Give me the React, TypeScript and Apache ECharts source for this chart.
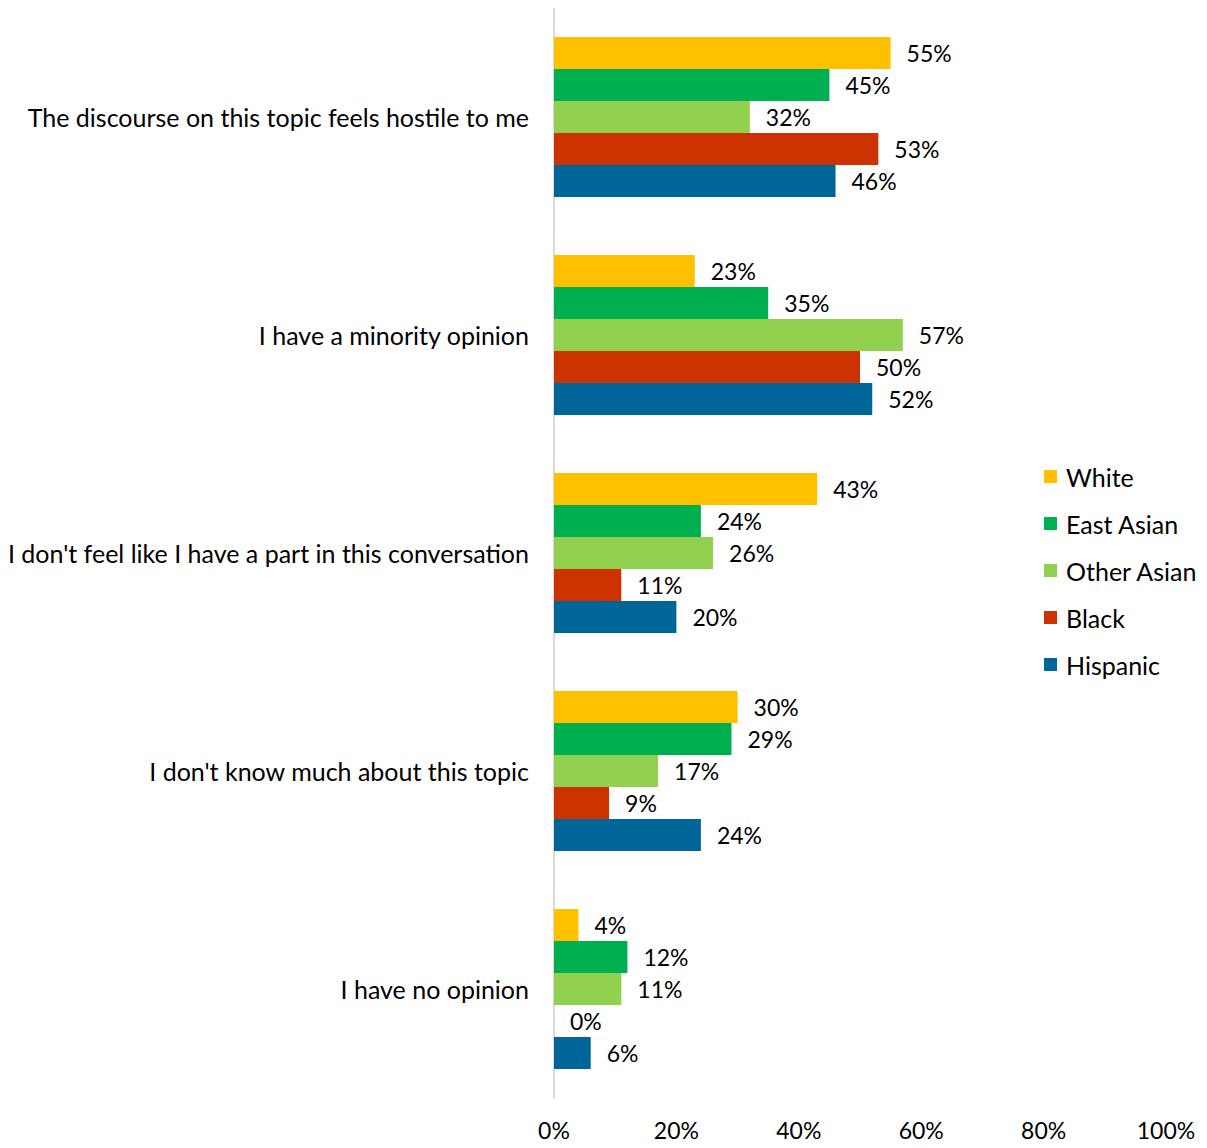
import React, { useEffect, useRef } from "react";
import * as echarts from "echarts";

const categories = [
  "The discourse on this topic feels hostile to me",
  "I have a minority opinion",
  "I don't feel like I have a part in this conversation",
  "I don't know much about this topic",
  "I have no opinion",
];
const seriesNames = ["White", "East Asian", "Other Asian", "Black", "Hispanic"];
const seriesColors = ["#FFC000", "#00B050", "#92D050", "#CC3300", "#006699"];
const white = [55, 23, 43, 30, 4];
const eastAsian = [45, 35, 24, 29, 12];
const otherAsian = [32, 57, 26, 17, 11];
const black = [53, 50, 11, 9, 0];
const hispanic = [46, 52, 20, 24, 6];
const seriesValues = [white, eastAsian, otherAsian, black, hispanic];

const FONT = "Lato, 'DejaVu Sans', sans-serif";

export default function App() {
  const ref = useRef<HTMLDivElement>(null);
  useEffect(() => {
    if (!ref.current) return;
    const chart = echarts.init(ref.current, null, { renderer: "svg" });
    chart.setOption({
      animation: false,
      textStyle: { fontFamily: FONT },
      grid: { left: 554, right: 41, top: 8, bottom: 50, containLabel: false },
      legend: {
        orient: "vertical",
        left: 1044,
        top: 464,
        padding: 0,
        itemWidth: 13,
        itemHeight: 13,
        itemGap: 22,
        icon: "rect",
        textStyle: { fontSize: 25, color: "#000", fontFamily: FONT, padding: [0, 0, 0, 4] },
        data: seriesNames,
      },
      xAxis: {
        type: "value",
        min: 0,
        max: 100,
        interval: 20,
        axisLine: { show: false },
        axisTick: { show: false },
        splitLine: { show: false },
        axisLabel: {
          formatter: "{value}%",
          fontSize: 23,
          color: "#000",
          margin: 20,
          fontFamily: FONT,
        },
      },
      yAxis: {
        type: "category",
        inverse: true,
        data: categories,
        axisLine: { show: true, lineStyle: { color: "#D9D9D9", width: 2 } },
        axisTick: { show: false },
        axisLabel: { fontSize: 25, color: "#000", margin: 25, fontFamily: FONT },
      },
      series: seriesNames.map((name, i) => ({
        name,
        type: "bar",
        data: seriesValues[i],
        barGap: "0%",
        barCategoryGap: "26.6%",
        itemStyle: { color: seriesColors[i] },
        label: {
          show: true,
          position: "right",
          distance: 16,
          formatter: "{c}%",
          fontSize: 23,
          color: "#000",
          fontFamily: FONT,
        },
      })),
    });
    return () => chart.dispose();
  }, []);
  return <div ref={ref} style={{ width: 1207, height: 1148, margin: -8 }} />;
}
